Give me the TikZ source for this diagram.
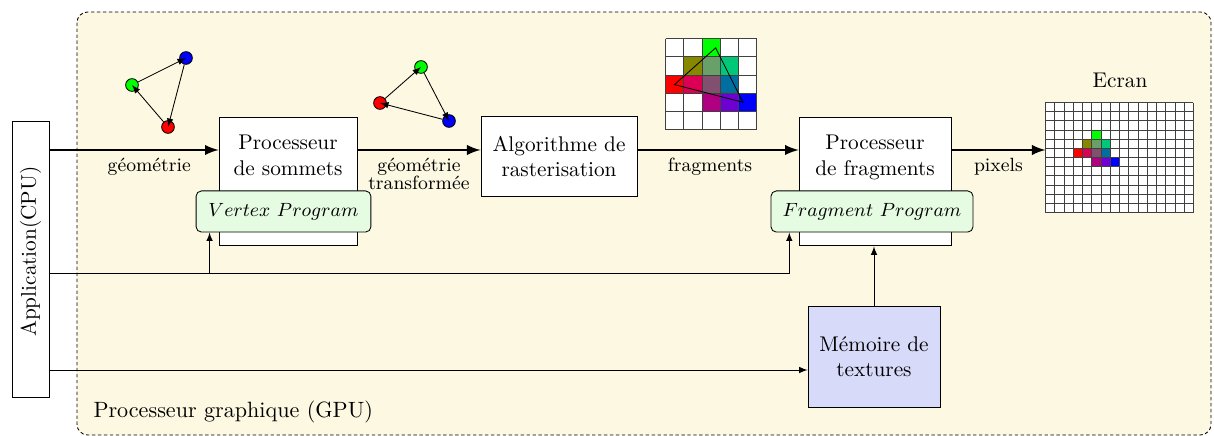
\documentclass[tikz,border=0pt]{standalone}
\usetikzlibrary{positioning}

\definecolor{gpufill}{RGB}{253,248,226}
\definecolor{progfill}{RGB}{230,252,226}
\definecolor{texfill}{RGB}{216,218,250}
\definecolor{vred}{RGB}{255,0,0}
\definecolor{vgreen}{RGB}{0,255,0}
\definecolor{vblue}{RGB}{0,0,255}
\definecolor{folive}{RGB}{136,136,0}
\definecolor{fsage}{RGB}{105,160,105}
\definecolor{fjade}{RGB}{0,200,120}
\definecolor{fcrimson}{RGB}{220,0,85}
\definecolor{fmauve}{RGB}{128,80,110}
\definecolor{fteal}{RGB}{0,110,160}
\definecolor{fmagenta}{RGB}{175,0,130}
\definecolor{fpurple}{RGB}{110,0,210}

% row/column/colour of the lit fragments
\newcommand\fragcells{0/2/vgreen,1/1/folive,1/2/fsage,1/3/fjade,2/0/vred,2/1/fcrimson,2/2/fmauve,2/3/fteal,3/2/fmagenta,3/3/fpurple,3/4/vblue}

\begin{document}
\begin{tikzpicture}[x=1.653mm,y=1.653mm,>=latex,
    box/.style={draw,fill=white,inner sep=0pt},
    prog/.style={draw,rounded corners=2.5pt,fill=progfill,inner sep=0pt,minimum height=0.68cm,font=\fontsize{9.3pt}{11pt}\selectfont},
    flow/.style={->,very thick},
    link/.style={->},
    vtx/.style={circle,draw,inner sep=0pt,minimum size=0.21cm},
    lbl/.style={font=\small,align=center}]
            \useasboundingbox (0,0) rectangle (121.4,-43.6);

            % carte graphique
            \draw[fill=gpufill,dash pattern=on 1.6pt off 1.2pt,rounded corners=5pt] (7.7,-1.2) rectangle (121.1,-43.5);
            \node[anchor=west,font=\fontsize{10.4pt}{12pt}\selectfont] (gpu) at (8.6,-41.2) {Processeur graphique (GPU)};

            \coordinate (flow) at (0,-15);
            \coordinate (bus) at (0,-27.3);
            \coordinate (texin) at (0,-37);

            \node[box,rotate=90,minimum width=4.55cm,minimum height=0.61cm] (app) at (3.05,-25.95) {\hspace{0.26cm}Application(CPU)};

            \node[box,minimum width=2.28cm,minimum height=2.13cm] (vs) at (28.8,-18.15) {};
            \node[align=center,below=0.18cm of vs.north] (vstxt) {Processeur\\de sommets};
            \node[prog,minimum width=2.89cm] (vp) at (28.35,-21.15) {$Vertex\ Program$};

            \node[box,align=center,minimum width=2.58cm,minimum height=1.31cm] (algo) at (55.9,-15.65) {Algorithme de\\rasterisation};

            \node[box,minimum width=2.51cm,minimum height=2.13cm] (fr) at (87.5,-18.15) {};
            \node[align=center,below=0.18cm of fr.north] (frtxt) {Processeur\\de fragments};
            \node[prog,minimum width=3.34cm] (fp) at (87.2,-21.15) {$Fragment\ Program$};

            \node[box,fill=texfill,align=center,minimum width=2.18cm,minimum height=1.67cm] (tex) at (87.4,-35.65) {M\'emoire de\\textures};

            \node[inner sep=0pt,minimum width=1.504cm,minimum height=1.504cm] (frg) at (71.15,-8.45) {};
            \node[inner sep=0pt,minimum width=2.45cm,minimum height=1.82cm] (scr) at (112,-15.8) {};
            \node[above=0.12cm of scr] (ecran) {Ecran};

            % triangles
            \node[vtx,fill=vgreen] (g1) at (13.2,-8.5) {};
            \node[vtx,fill=vblue] (b1) at (18.6,-5.8) {};
            \node[vtx,fill=vred] (r1) at (16.8,-12.7) {};
            \draw[->] (g1) -- (b1.center);
            \draw[->] (b1) -- (r1.center);
            \draw[->] (r1) -- (g1.center);

            \node[vtx,fill=vgreen] (g2) at (42.1,-6.7) {};
            \node[vtx,fill=vblue] (b2) at (44.9,-12.1) {};
            \node[vtx,fill=vred] (r2) at (38.0,-10.3) {};
            \draw[->] (g2) -- (b2.center);
            \draw[->] (b2) -- (r2.center);
            \draw[->] (r2) -- (g2.center);

            % fragments
            \begin{scope}[shift={(frg.north west)},x=3.008mm,y=3.008mm]
                \fill[white] (0,0) rectangle (5,-5);
                \foreach \r/\c/\col in \fragcells
                    \fill[\col] (\c,-\r) rectangle ++(1,-1);
                \foreach \i in {0,...,5} {
                    \draw[black!75] (\i,0) -- (\i,-5);
                    \draw[black!75] (0,-\i) -- (5,-\i);
                }
                \draw (2.75,-0.51) -- (0.49,-2.53) -- (4.25,-3.5) -- cycle;
            \end{scope}

            % ecran
            \begin{scope}[shift={(scr.north west)},x=1.529mm,y=1.516mm]
                \fill[white] (0,0) rectangle (16,-12);
                \foreach \r/\c/\col in \fragcells
                    \fill[\col] (\c+3,-\r-3) rectangle ++(1,-1);
                \foreach \i in {0,...,16}
                    \draw[black!75] (\i,0) -- (\i,-12);
                \foreach \j in {0,...,12}
                    \draw[black!75] (0,-\j) -- (16,-\j);
            \end{scope}

            % pipeline
            \draw[flow] (app.south |- flow) -- (vs.west |- flow) node[lbl,below,pos=.59] {g\'eom\'etrie};
            \draw[flow] (vs.east |- flow) -- (algo.west |- flow) node[lbl,below,midway] {g\'eom\'etrie\\[-2.5pt]transform\'ee};
            \draw[flow] (algo.east |- flow) -- (fr.west |- flow) node[lbl,below,pos=.45] {fragments};
            \draw[flow] (fr.east |- flow) -- (scr.west |- flow) node[lbl,below,midway] {pixels};

            \coordinate (vpin) at ([xshift=0.23cm]vp.south west);
            \coordinate (fpin) at ([xshift=0.31cm]fp.south west);
            \draw[link] (app.south |- bus) -| (fpin);
            \draw[link] (vpin |- bus) -- (vpin);
            \draw[link] (app.south |- texin) -- (tex.west |- texin);
            \draw[link] (tex.north) -- (tex.north |- fr.south);
\end{tikzpicture}
\end{document}
